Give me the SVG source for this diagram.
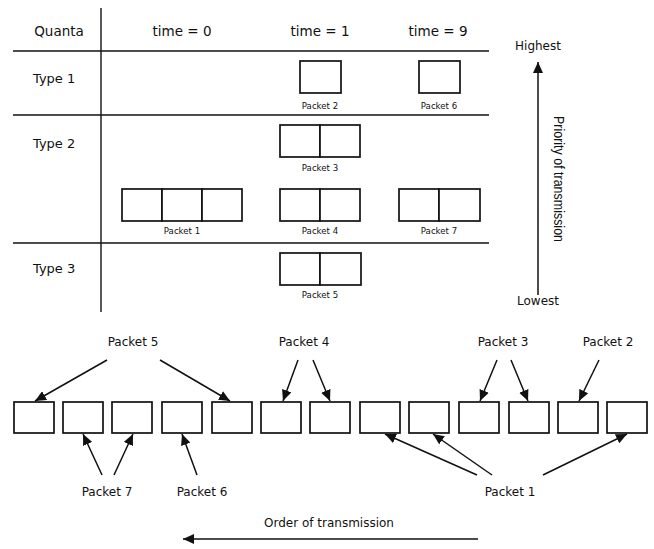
<svg xmlns="http://www.w3.org/2000/svg" width="654" height="549" viewBox="0 0 654 549">
<style>
text{font-family:"DejaVu Sans","Liberation Sans",sans-serif;fill:#111}
.h{font-size:13.5px;text-anchor:middle}
.t{font-size:13px}
.s{font-size:8.6px;text-anchor:middle}
.l{font-size:12px;text-anchor:middle}
.rule{stroke:#111;stroke-width:1.4;fill:none}
.box{fill:#fff;stroke:#111;stroke-width:1.7}
.ar{stroke:#111;stroke-width:1.5;fill:none;marker-end:url(#ah)}
</style>
<defs>
<marker id="ah" markerUnits="userSpaceOnUse" markerWidth="12" markerHeight="10" refX="11" refY="5" orient="auto">
<path d="M0,0 L11,5 L0,10 Z" fill="#111"/>
</marker>
</defs>
<rect width="654" height="549" fill="#fff"/>
<g id="table">
<line class="rule" x1="101" y1="8" x2="101" y2="312"/>
<line class="rule" x1="13" y1="51" x2="489" y2="51"/>
<line class="rule" x1="13" y1="115" x2="489" y2="115"/>
<line class="rule" x1="13" y1="243" x2="489" y2="243"/>
<text class="h" x="59" y="36">Quanta</text>
<text class="h" x="182" y="36">time = 0</text>
<text class="h" x="320" y="36">time = 1</text>
<text class="h" x="438" y="36">time = 9</text>
<text class="t" x="33" y="83">Type 1</text>
<text class="t" x="33" y="148">Type 2</text>
<text class="t" x="33" y="273">Type 3</text>
</g>
<g id="t-packet2"><rect class="box" x="300" y="61" width="41" height="32"/><text class="s" x="320" y="109">Packet 2</text></g>
<g id="t-packet6"><rect class="box" x="419" y="61" width="41" height="32"/><text class="s" x="439" y="109">Packet 6</text></g>
<g id="t-packet3"><rect class="box" x="280" y="125" width="40" height="32"/><rect class="box" x="320" y="125" width="40" height="32"/><text class="s" x="320" y="171">Packet 3</text></g>
<g id="t-packet1"><rect class="box" x="122" y="189" width="40" height="32"/><rect class="box" x="162" y="189" width="40" height="32"/><rect class="box" x="202" y="189" width="40" height="32"/><text class="s" x="182" y="234">Packet 1</text></g>
<g id="t-packet4"><rect class="box" x="280" y="189" width="40" height="32"/><rect class="box" x="320" y="189" width="40" height="32"/><text class="s" x="320" y="234">Packet 4</text></g>
<g id="t-packet7"><rect class="box" x="399" y="189" width="40" height="32"/><rect class="box" x="439" y="189" width="41" height="32"/><text class="s" x="439" y="234">Packet 7</text></g>
<g id="t-packet5"><rect class="box" x="280" y="253" width="40" height="32"/><rect class="box" x="320" y="253" width="41" height="32"/><text class="s" x="320" y="298">Packet 5</text></g>
<g id="priority">
<line class="ar" x1="538" y1="295" x2="538" y2="62"/>
<text class="l" x="538" y="50">Highest</text>
<text class="l" x="538" y="305">Lowest</text>
<text transform="translate(554,179) rotate(90)" style="font-family:'Liberation Sans',sans-serif;font-size:14px;text-anchor:middle" textLength="126" lengthAdjust="spacingAndGlyphs">Priority of transmission</text>
</g>
<g id="queue">
<rect class="box" x="14" y="402" width="40" height="31"/>
<rect class="box" x="63" y="402" width="40" height="31"/>
<rect class="box" x="112" y="402" width="40" height="31"/>
<rect class="box" x="162" y="402" width="40" height="31"/>
<rect class="box" x="212" y="402" width="40" height="31"/>
<rect class="box" x="261" y="402" width="40" height="31"/>
<rect class="box" x="310" y="402" width="40" height="31"/>
<rect class="box" x="360" y="402" width="40" height="31"/>
<rect class="box" x="409" y="402" width="40" height="31"/>
<rect class="box" x="459" y="402" width="40" height="31"/>
<rect class="box" x="509" y="402" width="40" height="31"/>
<rect class="box" x="558" y="402" width="40" height="31"/>
<rect class="box" x="607" y="402" width="40" height="31"/>
</g>
<g id="labels">
<text class="l" x="133" y="346">Packet 5</text>
<text class="l" x="304" y="346">Packet 4</text>
<text class="l" x="503" y="346">Packet 3</text>
<text class="l" x="608" y="346">Packet 2</text>
<text class="l" x="107" y="496">Packet 7</text>
<text class="l" x="202" y="496">Packet 6</text>
<text class="l" x="510" y="496">Packet 1</text>
<text class="l" x="329" y="527">Order of transmission</text>
</g>
<g id="connectors">
<line class="ar" x1="107" y1="360" x2="35" y2="401"/>
<line class="ar" x1="160" y1="360" x2="230" y2="401"/>
<line class="ar" x1="298" y1="360" x2="283" y2="401"/>
<line class="ar" x1="313" y1="360" x2="330" y2="401"/>
<line class="ar" x1="497" y1="360" x2="480" y2="401"/>
<line class="ar" x1="511" y1="360" x2="528" y2="401"/>
<line class="ar" x1="599" y1="360" x2="579" y2="401"/>
<line class="ar" x1="102" y1="475" x2="83" y2="434"/>
<line class="ar" x1="114" y1="475" x2="133" y2="434"/>
<line class="ar" x1="197" y1="475" x2="182" y2="434"/>
<line class="ar" x1="477" y1="475" x2="385" y2="434"/>
<line class="ar" x1="492" y1="475" x2="433" y2="434"/>
<line class="ar" x1="543" y1="475" x2="627" y2="434"/>
<line class="ar" x1="478" y1="539" x2="183" y2="539"/>
</g>
</svg>
